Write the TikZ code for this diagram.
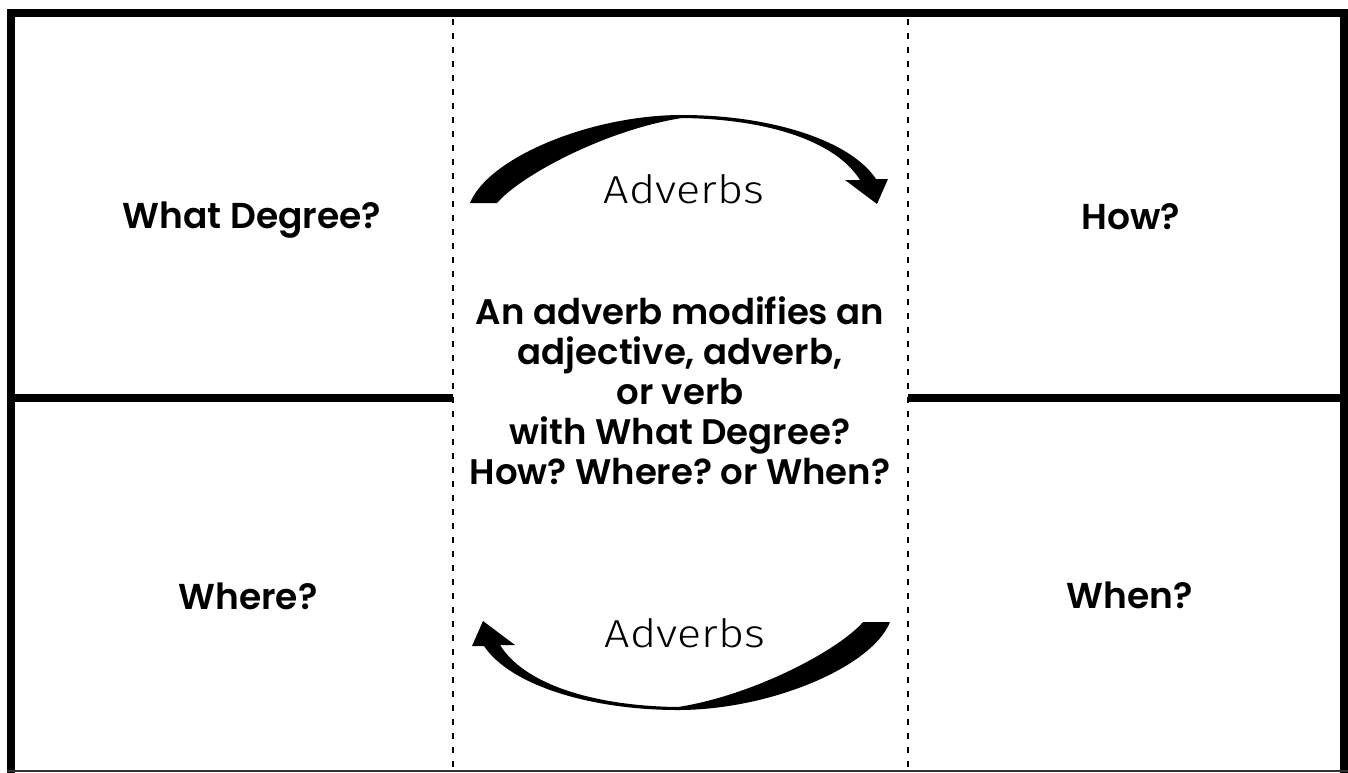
\documentclass[tikz,border=0pt]{standalone}
\usepackage{fontspec}
\IfFontExistsTF{Poppins SemiBold}{\setmainfont{Poppins}[BoldFont={Poppins SemiBold}]}{\setmainfont{Poppins}}
\IfFontExistsTF{Fira Sans Light}{\newfontfamily\handfont{Fira Sans Light}[FakeStretch=1.15]}{\newfontfamily\handfont{Fira Sans}[FakeStretch=1.15]}
\frenchspacing
\begin{document}
\begin{tikzpicture}[x=1pt,y=-1pt,
  frameline/.style={line width=8pt, line join=miter, black},
  divider/.style={line width=1.5pt, dash pattern=on 6pt off 8pt, black},
  label/.style={font=\fontsize{36}{44}\selectfont\bfseries, anchor=base, inner sep=0pt},
  centertext/.style={font=\fontsize{35.5}{40}\selectfont\bfseries\frenchspacing, align=center, anchor=north, inner sep=0pt},
  handtext/.style={font=\handfont\fontsize{39}{44}\selectfont, anchor=base, inner sep=0pt},
  bigarrow/.style={fill=black, draw=none}]
\useasboundingbox (0,0) rectangle (1348,772);
\fill[white] (0,0) rectangle (1348,772);
% frame
\draw[frameline] (11,780) -- (11,13) -- (1344,13) -- (1344,780);
\draw[line width=2pt, black!80] (7,771) -- (1348,771);
\draw[frameline] (15,398) -- (453,398);
\draw[frameline] (908,398) -- (1340,398);
% dashed dividers
\draw[divider] (453,19) -- (453,771);
\draw[divider] (908,19) -- (908,771);
% labels
\node[label] (wd) at (252,228) {What Degree?};
\node[label] (how) at (1131,229) {How?};
\node[label] (where) at (248,609) {Where?};
\node[label] (when) at (1130,608) {When?};
% centre text
\node[centertext] (def) at (680,296) {An adverb modifies an\\adjective, adverb,\\or verb\\with What Degree?\\How? Where? or When?};
% arrows
\def\arrowshape{(470,203) .. controls (488,158) and (590,115) .. (682,115)
  .. controls (770,115) and (850,140) .. (876,179)
  -- (888,179) -- (877,204) -- (845,180) -- (860,180)
  .. controls (835,140) and (765,119) .. (682,118)
  .. controls (605,130) and (520,176) .. (497,203) -- cycle}
\fill[bigarrow] \arrowshape;
\begin{scope}[rotate around={180:(680,412.5)}]
\fill[bigarrow] \arrowshape;
\end{scope}
\node[handtext] (adv1) at (684,203) {Adverbs};
\node[handtext] (adv2) at (685,647) {Adverbs};
\end{tikzpicture}
\end{document}
